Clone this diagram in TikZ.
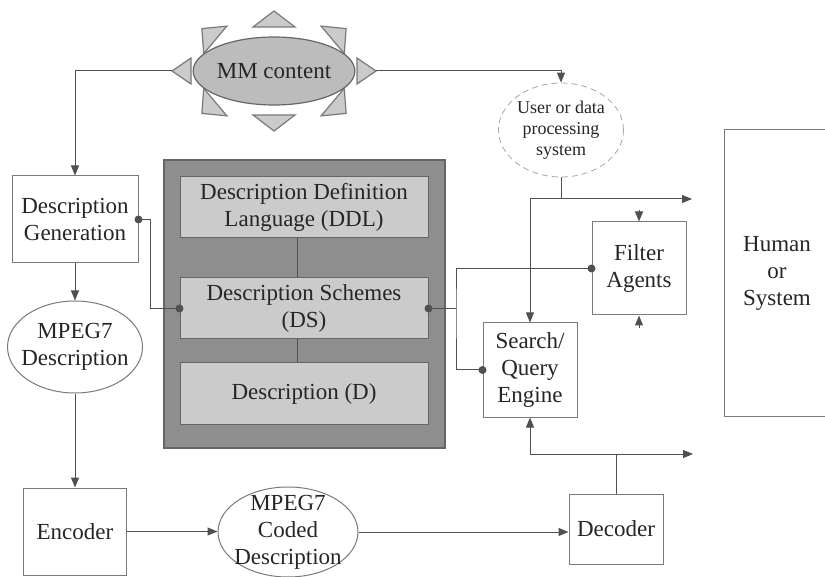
\documentclass[tikz,border=0pt]{standalone}
\usepackage{fontspec}
\setmainfont{Liberation Serif}
\usepackage{xcolor}
\usetikzlibrary{shapes.geometric,arrows.meta,calc}

\definecolor{linegray}{HTML}{505050}
\definecolor{framegray}{HTML}{7A7A7A}
\definecolor{darkfill}{HTML}{8E8E8E}
\definecolor{lightfill}{HTML}{CBCBCB}
\definecolor{sunfill}{HTML}{BCBCBC}

\begin{document}
\begin{tikzpicture}[x=0.5pt,y=-0.5pt,>={Triangle[length=5pt,width=4pt]},
    every node/.style={font=\fontsize{11.5}{13.5}\selectfont,text=black!85},
    every path/.style={draw=linegray,line width=0.5pt},
    box/.style={draw=framegray,rectangle,inner sep=0pt,align=center,fill=white},
    ell/.style={draw=framegray,ellipse,inner sep=0pt},
    inner/.style={box,fill=lightfill,draw=black!60,minimum width=124pt,minimum height=30.5pt},
    ray/.style={fill=lightfill,draw=framegray,line width=0.6pt},
    dot/.style={circle,fill=linegray,draw=none,inner sep=0pt,minimum size=4pt}]
\path[use as bounding box,draw=none] (0,0) rectangle (825,577);

% sun around the MM content
\foreach \a/\w in {0/6.5,45/9,90/10.5,135/9,180/6.5,225/9,270/10.5,315/9}{
  \coordinate (ray\a) at ({274+102*cos(\a)},{71-60*sin(\a)});
  \coordinate (base\a) at ({274+83*cos(\a)},{71-44*sin(\a)});
  \filldraw[ray] (ray\a) -- ($(base\a)!\w pt!90:(ray\a)$) -- ($(base\a)!\w pt!-90:(ray\a)$) -- cycle;
}
\node[ell,fill=sunfill,draw=black!60,line width=0.6pt,minimum width=80pt,minimum height=34pt] (mm) at (274,71) {MM content};

% left column
\node[box,minimum width=63pt,minimum height=43.5pt] (gen) at (75,219.5) {Description\\Generation};
\node[ell,minimum width=67.5pt,minimum height=46pt] (mdesc) at (75,347) {};
\node[align=center,inner sep=0pt] (mdesc-t) at (mdesc) {MPEG7\\Description};
\node[box,minimum width=51.5pt,minimum height=43.5pt] (enc) at (75,531.5) {Encoder};
\node[ell,minimum width=70pt,minimum height=45pt] (coded) at (288,532) {};
\node[align=center,inner sep=0pt] (coded-t) at (coded) {MPEG7\\Coded\\Description};
\node[box,minimum width=47pt,minimum height=35pt] (dec) at (616,529) {Decoder};

% DDL / DS / D block
\node[box,fill=darkfill,draw=black!60,line width=0.8pt,minimum width=140.5pt,minimum height=144pt] (block) at (304.5,304) {};
\node[inner] (ddl) at (304,207.5) {Description Definition\\Language (DDL)};
\node[inner] (ds) at (304,308.5) {Description Schemes\\(DS)};
\node[inner] (d) at (304,393.5) {Description (D)};

% right part
\node[ell,densely dashed,draw=black!35,line width=0.4pt,minimum width=62.5pt,minimum height=47pt] (user) at (561,130) {};
\node[align=center,inner sep=0pt,font=\fontsize{9}{10.5}\selectfont] (user-t) at (user) {User or data\\processing\\system};
\node[box,minimum width=47pt,minimum height=46.5pt] (filt) at (639,268.5) {Filter\\Agents};
\node[box,minimum width=47pt,minimum height=47pt] (sqe) at (530,370) {Search/\\Query\\Engine};
\node[box,minimum width=53pt,minimum height=143pt] (hum) at (777,273) {Human\\or\\System};

% connectors
\draw[->] (ray180) -| (gen.north);
\draw[->] (ray0) -| (user.north);
\draw[->] (gen.south) -- (mdesc.north);
\draw[->] (mdesc.south) -- (enc.north);
\draw[->] (enc.east) -- (enc.east -| coded.west);
\draw[->] (coded.east) -- (coded.east -| dec.west);
\draw ([xshift=-3.5pt]ddl.south) -- ([xshift=-3.5pt]ds.north);
\draw ([xshift=-3.5pt]ds.south) -- ([xshift=-3.5pt]d.north);

\coordinate (gj) at (150,308.5);
\draw (gen.east) -| (gj) -- (ds.west);
\coordinate (sj) at (456,308.5);
\draw (ds.east) -- (sj);
\draw (filt.west) -| (sj) |- (sqe.west);

\coordinate (outU) at (692,199);
\draw[->] (user.south) |- (outU);
\draw[->] (user.south |- outU) -| (sqe.north);
\coordinate (outD) at (693,454);
\draw[->] (dec.north) |- (outD);
\draw[->] (dec.north |- outD) -| (sqe.south);

\coordinate (fin) at (639,210);
\draw[->] (fin) -- (filt.north);
\coordinate (fout) at (639,328);
\draw[->] (fout) -- (filt.south);

\node[dot] (dot1) at (gen.east) {};
\node[dot] (dot2) at (ds.west) {};
\node[dot] (dot3) at (ds.east) {};
\node[dot] (dot4) at (filt.west) {};
\node[dot] (dot5) at (sqe.west) {};
\end{tikzpicture}
\end{document}
